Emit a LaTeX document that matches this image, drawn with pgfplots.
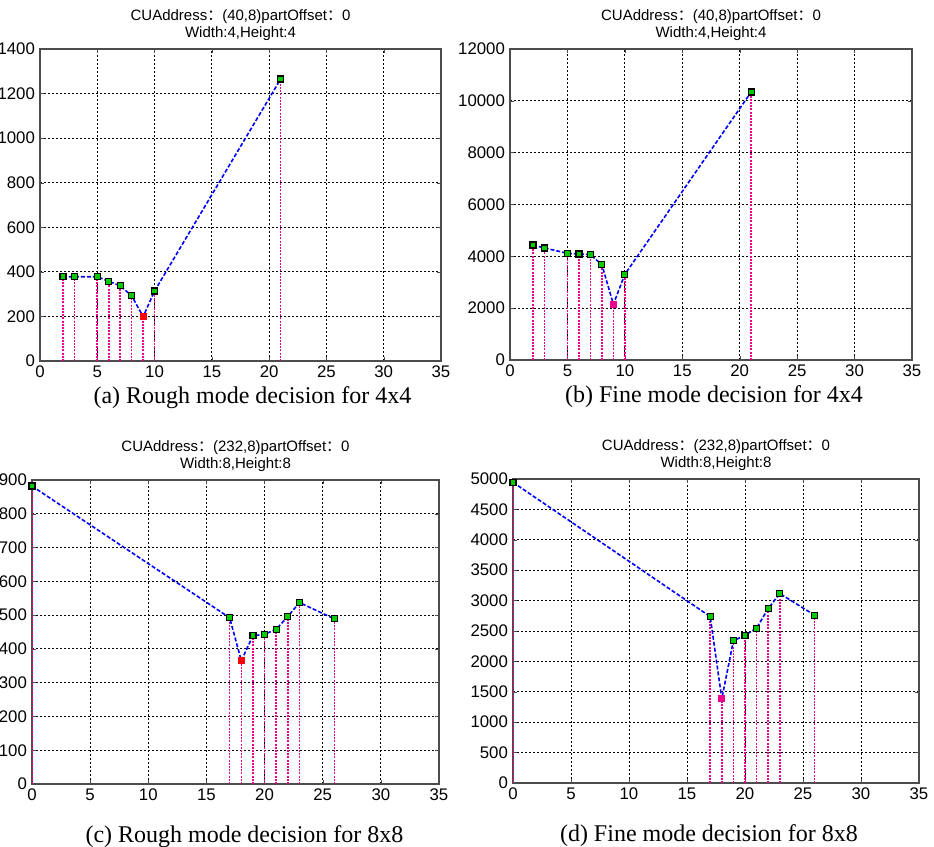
\documentclass[border=0pt]{standalone}
\usepackage{pgfplots}
\pgfplotsset{compat=1.18}
\usepackage{fontspec}
\setmainfont{Liberation Sans}
\newfontfamily\capfont{Liberation Serif}
\newfontfamily\cjk{Noto Sans CJK SC}

\pgfplotsset{
  mpanel/.style={
    scale only axis, anchor=south west,
    xmin=0, xmax=35, xtick distance=5, ymin=0,
    grid=major,
    major grid style={black, dash pattern=on 0.8pt off 1.2pt, line width=0.4pt},
    axis line style={gray!60!black, line width=0.6pt},
    tick style={gray!60!black}, tick align=inside, major tick length=2pt,
    ticklabel style={font=\fontsize{8.4}{9}\selectfont},
    /pgf/number format/assume math mode=true,
    /pgf/number format/1000 sep={},
    scaled y ticks=false,
    xticklabel style={yshift=1pt},
    yticklabel style={xshift=1pt},
    title style={font=\fontsize{7.5}{8.6}\selectfont, align=center, yshift=-5.5pt},
    xlabel style={font=\capfont\fontsize{12}{14}\selectfont,
      at={(axis description cs:0.5,0)}, anchor=center},
  },
  stem/.style={ycomb, magenta, dash pattern=on 1pt off 0.6pt, line width=0.8pt, no marks},
  cost/.style={blue, dash pattern=on 2pt off 1pt, line width=0.8pt, mark=square*, mark size=1.5pt,
    mark options={solid, fill=green!80!black, draw=black, line width=0.6pt}},
  best/.style={only marks, mark=square*, mark size=1.5pt, mark options={solid, fill=#1, draw=#1}},
}

\begin{document}
\begin{tikzpicture}
\useasboundingbox (0,0) rectangle (467pt,423.5pt);

% (a) rough, 4x4
\begin{axis}[mpanel, at={(20pt,243pt)}, width=200.5pt, height=156pt,
  ymax=1400, ytick distance=200,
  title={CUAddress{\cjk ：}(40,8)partOffset{\cjk ：}0\\Width:4,Height:4},
  xlabel={(a) Rough mode decision for 4x4},
  xlabel style={yshift=-18.5pt, xshift=6pt}]
\addplot[stem] coordinates {(2,378) (3,378) (5,378) (6,358) (7,337) (8,293) (9,199) (10,314) (21,1265)};
\addplot[cost] coordinates {(2,378) (3,378) (5,378) (6,358) (7,337) (8,293) (9,199) (10,314) (21,1265)};
\addplot[best=red] coordinates {(9,199)};
\end{axis}

% (b) fine, 4x4
\begin{axis}[mpanel, at={(255pt,243.5pt)}, width=201pt, height=155.5pt,
  ymax=12000, ytick distance=2000,
  title={CUAddress{\cjk ：}(40,8)partOffset{\cjk ：}0\\Width:4,Height:4},
  xlabel={(b) Fine mode decision for 4x4},
  xlabel style={yshift=-18.5pt, xshift=1.5pt}]
\addplot[stem] coordinates {(2,4437) (3,4322) (5,4116) (6,4090) (7,4064) (8,3678) (9,2148) (10,3305) (21,10341)};
\addplot[cost] coordinates {(2,4437) (3,4322) (5,4116) (6,4090) (7,4064) (8,3678) (9,2148) (10,3305) (21,10341)};
\addplot[best=magenta] coordinates {(9,2148)};
\end{axis}

% (c) rough, 8x8
\begin{axis}[mpanel, at={(16pt,31.5pt)}, width=203.5pt, height=152pt,
  ymax=900, ytick distance=100,
  title={CUAddress{\cjk ：}(232,8)partOffset{\cjk ：}0\\Width:8,Height:8},
  xlabel={(c) Rough mode decision for 8x8},
  xlabel style={yshift=-26.5pt, xshift=4.5pt}]
\addplot[stem] coordinates {(0,882) (17,492) (18,365) (19,439) (20,443) (21,458) (22,496) (23,537) (26,489)};
\addplot[cost] coordinates {(0,882) (17,492) (18,365) (19,439) (20,443) (21,458) (22,496) (23,537) (26,489)};
\addplot[best=red] coordinates {(18,365)};
\end{axis}

% (d) fine, 8x8
\begin{axis}[mpanel, at={(256.5pt,32pt)}, width=203pt, height=152pt,
  ymax=5000, ytick distance=500,
  title={CUAddress{\cjk ：}(232,8)partOffset{\cjk ：}0\\Width:8,Height:8},
  xlabel={(d) Fine mode decision for 8x8},
  xlabel style={yshift=-26.5pt, xshift=-3.5pt}]
\addplot[stem] coordinates {(0,4945) (17,2738) (18,1386) (19,2338) (20,2431) (21,2546) (22,2870) (23,3116) (26,2760)};
\addplot[cost] coordinates {(0,4945) (17,2738) (18,1386) (19,2338) (20,2431) (21,2546) (22,2870) (23,3116) (26,2760)};
\addplot[best=magenta] coordinates {(18,1386)};
\end{axis}
\end{tikzpicture}
\end{document}
